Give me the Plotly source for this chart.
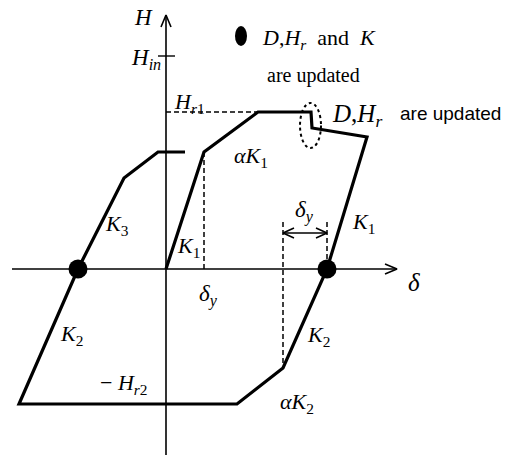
import plotly.graph_objects as go

# Hysteresis rule: displacement (delta) and restoring force (H), drawing units
path_delta = [0, 38, 92, 145, 146, 201, 161, 117, 71, -147, -88, -42, -8, 19]
path_H = [0, 117, 157, 157, 141, 132, 0, -99, -135, -135, 0, 91, 117, 117]

# Points where D, Hr and K are updated (zero-force crossings)
update_delta = [-88, 161]
update_H = [0, 0]

# Reference levels
delta_y = 38
H_r1 = 157
H_r2 = -135
H_in = 213
delta_unload = 117
delta_cross = 161
delta_y_arrow_H = 36

# Axis extents
x_axis = (-154, 231)
y_axis = (-186, 254)

SERIF = "Liberation Serif, Times New Roman, serif"
SANS = "Liberation Sans, Arial, sans-serif"
FS = 22

fig = go.Figure()


def line(xs, ys, width=1.6, dash=None):
    fig.add_trace(go.Scatter(x=xs, y=ys, mode="lines",
                             line=dict(color="black", width=width, dash=dash),
                             hoverinfo="skip", showlegend=False))


def chevron(tx, ty, dx, dy, length=12, half=5):
    # open arrow head with tip at (tx, ty) pointing along (dx, dy)
    px, py = -dy, dx
    bx, by = tx - dx * length, ty - dy * length
    line([bx + px * half, tx, bx - px * half], [by + py * half, ty, by - py * half], width=1.6)


# axes
line([x_axis[0], x_axis[1]], [0, 0])
line([0, 0], [y_axis[0], y_axis[1]])
chevron(x_axis[1], 0, 1, 0)
chevron(0, y_axis[1], 0, 1)
# H_in tick
line([-8, 9], [H_in, H_in], width=1.4)

# dashed guides
dash = "5px,3px"
line([delta_y, delta_y], [0, path_H[1]], width=1.5, dash=dash)
line([0, path_delta[2]], [H_r1, H_r1], width=1.5, dash=dash)
line([delta_unload, delta_unload], [47, path_H[7]], width=1.5, dash=dash)
line([delta_cross, delta_cross], [47, 0], width=1.5, dash=dash)

# delta_y dimension arrow
line([delta_unload, delta_cross], [delta_y_arrow_H, delta_y_arrow_H], width=1.6)
chevron(delta_unload, delta_y_arrow_H, -1, 0, length=11, half=5)
chevron(delta_cross, delta_y_arrow_H, 1, 0, length=11, half=5)

# main hysteresis path
fig.add_trace(go.Scatter(x=path_delta, y=path_H, mode="lines",
                         line=dict(color="black", width=3.2),
                         hoverinfo="skip", showlegend=False))

# update points
fig.add_trace(go.Scatter(x=update_delta, y=update_H, mode="markers",
                         marker=dict(color="black", size=19, line=dict(width=0)),
                         hoverinfo="skip", showlegend=False))

# dotted ellipse around the force drop
fig.add_shape(type="circle", xref="x", yref="y", x0=134, x1=155, y0=121, y1=166,
              line=dict(color="black", width=2, dash="dot"))
# legend dot
fig.add_shape(type="circle", xref="x", yref="y", x0=69, x1=81, y0=223, y1=243,
              fillcolor="black", line=dict(width=0))


def label(x, y, text, xanchor="left", size=FS, family=SERIF):
    fig.add_annotation(x=x, y=y, text=text, showarrow=False, xref="x", yref="y",
                       xanchor=xanchor, yanchor="middle",
                       font=dict(family=family, size=size, color="black"))


label(-34, 252, "<i>H</i>", size=23)
label(-37, 210, "<i>H</i><sub><i>in</i></sub>", size=23)
label(6, 166, "<i>H</i><sub><i>r</i>1</sub>")
label(94, 230, "<i>D</i>,<i>H</i><sub><i>r</i></sub>  and  <i>K</i>")
label(99, 194, "are updated", size=20)
label(164, 154, "<i>D</i>,<i>H</i><sub><i>r</i></sub>", size=25)
label(232, 156, "are updated", size=19, family=SANS)
label(66, 112, "<i>αK</i><sub>1</sub>")
label(-63, 44, "<i>K</i><sub>3</sub>")
label(9, 22, "<i>K</i><sub>1</sub>")
label(31, -26, "<i>δ</i><sub><i>y</i></sub>", size=23)
label(127, 58, "<i>δ</i><sub><i>y</i></sub>", size=23)
label(184, 46, "<i>K</i><sub>1</sub>")
label(240, -13, "<i>δ</i>", size=25)
label(-108, -66, "<i>K</i><sub>2</sub>")
label(139, -67, "<i>K</i><sub>2</sub>")
label(-68, -115, "− <i>H</i><sub><i>r</i>2</sub>")
label(112, -134, "<i>αK</i><sub>2</sub>")

fig.update_layout(
    width=511, height=457,
    margin=dict(l=0, r=0, t=0, b=0),
    paper_bgcolor="white", plot_bgcolor="white",
    xaxis=dict(range=[-166, 345], visible=False, fixedrange=True),
    yaxis=dict(range=[-188, 269], visible=False, fixedrange=True),
    showlegend=False,
)

fig.write_html("out.html")
